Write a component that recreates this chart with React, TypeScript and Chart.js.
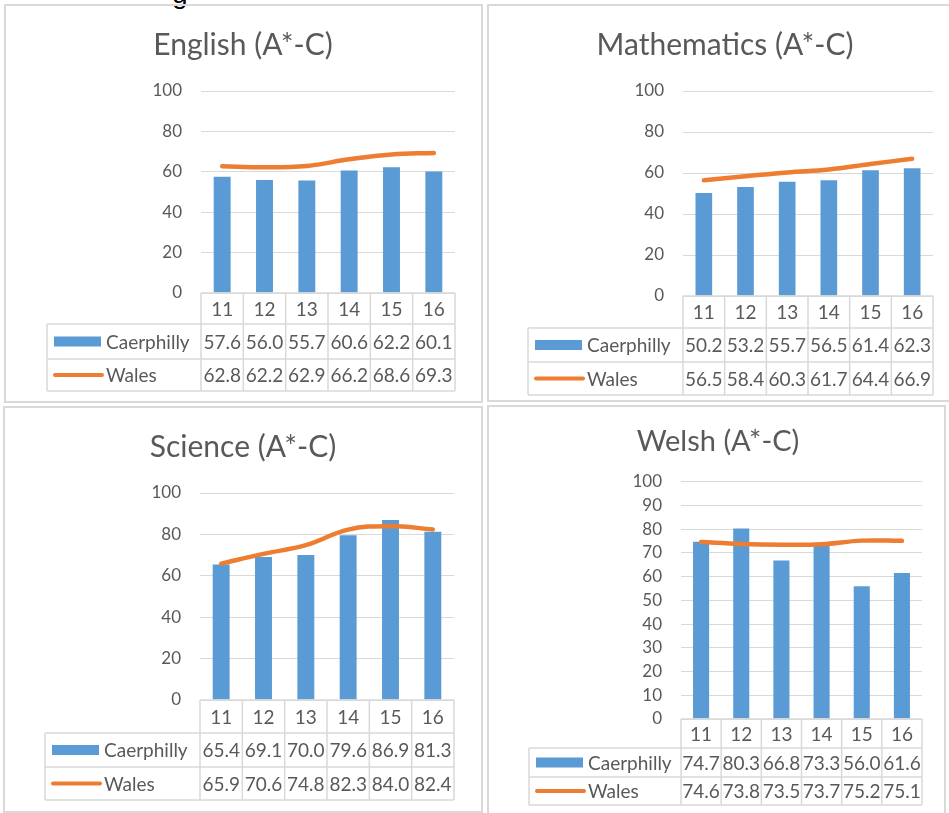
import React, { useEffect, useRef } from "react";
import { Chart, registerables } from "chart.js";

Chart.register(...registerables);

// ---------- data ----------
const years = ["11", "12", "13", "14", "15", "16"];
const seriesNames = ["Caerphilly", "Wales"];
const titles = ["English (A*-C)", "Mathematics (A*-C)", "Science (A*-C)", "Welsh (A*-C)"];

const englishCaerphilly = [57.6, 56.0, 55.7, 60.6, 62.2, 60.1];
const englishWales = [62.8, 62.2, 62.9, 66.2, 68.6, 69.3];
const mathsCaerphilly = [50.2, 53.2, 55.7, 56.5, 61.4, 62.3];
const mathsWales = [56.5, 58.4, 60.3, 61.7, 64.4, 66.9];
const scienceCaerphilly = [65.4, 69.1, 70.0, 79.6, 86.9, 81.3];
const scienceWales = [65.9, 70.6, 74.8, 82.3, 84.0, 82.4];
const welshCaerphilly = [74.7, 80.3, 66.8, 73.3, 56.0, 61.6];
const welshWales = [74.6, 73.8, 73.5, 73.7, 75.2, 75.1];

const yTickSteps = [20, 20, 20, 10];

// ---------- styles ----------
const FONT = "Lato, 'Open Sans', sans-serif";
const TEXT = "#595959";
const GRID = "#d9d9d9";
const BLUE = "#5B9BD5";
const ORANGE = "#ED7D31";

type PanelLayout = {
  left: number; top: number; width: number; height: number;
  padL: number; padR: number; padB: number; yW: number;
  titleSize: number; titleTop: number; titleBottom: number;
  legendLeft: number; rows: number[];
  border: { left: number; top: number; width: number; height: number };
};

const layouts: PanelLayout[] = [
  {
    left: 5, top: 4, width: 476, height: 398,
    padL: 26, padR: 26, padB: 109, yW: 170,
    titleSize: 30, titleTop: 23, titleBottom: 28,
    legendLeft: 42, rows: [31, 35, 32],
    border: { left: 4, top: 4, width: 479, height: 399 },
  },
  {
    left: 487, top: 4, width: 462, height: 397,
    padL: 30, padR: 16, padB: 105, yW: 166,
    titleSize: 30, titleTop: 23, titleBottom: 28,
    legendLeft: 41, rows: [32, 34, 33],
    border: { left: 487, top: 4, width: 470, height: 398 },
  },
  {
    left: 4, top: 407, width: 477, height: 406,
    padL: 28, padR: 27, padB: 113, yW: 168,
    titleSize: 30, titleTop: 22, titleBottom: 28,
    legendLeft: 41, rows: [33, 34, 33],
    border: { left: 3, top: 406, width: 480, height: 407 },
  },
  {
    left: 488, top: 407, width: 461, height: 406,
    padL: 26, padR: 27, padB: 94, yW: 167,
    titleSize: 29, titleTop: 17, titleBottom: 23,
    legendLeft: 41, rows: [29, 29, 28],
    border: { left: 487, top: 405, width: 459, height: 420 },
  },
];

const panelData = [
  [englishCaerphilly, englishWales],
  [mathsCaerphilly, mathsWales],
  [scienceCaerphilly, scienceWales],
  [welshCaerphilly, welshWales],
];

// ---------- data table plugin ----------
const dataTablePlugin = {
  id: "dataTable",
  afterDraw(chart: any, _args: any, opts: any) {
    const { ctx, chartArea } = chart;
    const xs = chart.scales.x;
    const labels: string[] = chart.data.labels;
    const n = labels.length;
    const left = chartArea.left;
    const right = chartArea.right;
    const colW = (right - left) / n;
    const top = chartArea.bottom;
    const rows: number[] = opts.rows;
    const y1 = top + rows[0];
    const y2 = y1 + rows[1];
    const y3 = y2 + rows[2];
    const ll = opts.legendLeft;

    ctx.save();
    ctx.strokeStyle = GRID;
    ctx.lineWidth = 1.5;
    const line = (ax: number, ay: number, bx: number, by: number) => {
      ctx.beginPath();
      ctx.moveTo(ax, ay);
      ctx.lineTo(bx, by);
      ctx.stroke();
    };
    line(left, top, right, top);
    line(ll, y1, right, y1);
    line(ll, y2, right, y2);
    line(ll, y3, right, y3);
    line(ll, y1, ll, y3);
    for (let i = 0; i <= n; i++) {
      const x = left + i * colW;
      line(x, top, x, y3);
    }

    ctx.fillStyle = TEXT;
    ctx.textAlign = "center";
    ctx.textBaseline = "middle";
    ctx.font = `19px ${FONT}`;
    labels.forEach((lab, i) => {
      ctx.fillText(lab, xs.getPixelForValue(i), top + rows[0] / 2 + 1);
    });

    const rowMid = [(y1 + y2) / 2, (y2 + y3) / 2];
    chart.data.datasets.forEach((ds: any, r: number) => {
      const ym = rowMid[r];
      ds.data.forEach((v: number, i: number) => {
        ctx.fillStyle = TEXT;
        ctx.textAlign = "center";
        ctx.fillText(v.toFixed(1), xs.getPixelForValue(i), ym + 1);
      });
      // legend key
      if (ds.type === "bar") {
        ctx.fillStyle = BLUE;
        ctx.fillRect(ll + 7, ym - 5, 47, 10);
      } else {
        ctx.strokeStyle = ORANGE;
        ctx.lineWidth = 4;
        ctx.lineCap = "round";
        line(ll + 8, ym, ll + 55, ym);
      }
      ctx.fillStyle = TEXT;
      ctx.textAlign = "left";
      ctx.fillText(ds.label, ll + 59, ym + 1);
    });
    ctx.restore();
  },
};

function Panel({ idx }: { idx: number }) {
  const ref = useRef<HTMLCanvasElement | null>(null);
  const L = layouts[idx];

  useEffect(() => {
    if (!ref.current) return;
    const [bars, line] = panelData[idx];
    const chart = new Chart(ref.current, {
      type: "bar",
      data: {
        labels: years,
        datasets: [
          {
            type: "bar",
            label: seriesNames[0],
            data: bars,
            backgroundColor: BLUE,
            barPercentage: 0.4,
            categoryPercentage: 1.0,
            order: 1,
          } as any,
          {
            type: "line",
            label: seriesNames[1],
            data: line,
            borderColor: ORANGE,
            backgroundColor: ORANGE,
            borderWidth: 4.5,
            borderCapStyle: "round",
            pointRadius: 0,
            tension: 0.4,
            fill: false,
            order: 0,
          } as any,
        ],
      },
      options: {
        responsive: false,
        maintainAspectRatio: false,
        animation: false,
        layout: { padding: { left: L.padL, right: L.padR, top: 0, bottom: L.padB } },
        plugins: {
          legend: { display: false },
          tooltip: { enabled: false },
          title: {
            display: true,
            text: titles[idx],
            color: TEXT,
            font: { family: FONT, size: L.titleSize, weight: "normal" as any },
            padding: { top: L.titleTop, bottom: L.titleBottom },
          },
          dataTable: { legendLeft: L.legendLeft, rows: L.rows },
        } as any,
        scales: {
          x: { type: "category", display: false, offset: true },
          y: {
            min: 0,
            max: 100,
            ticks: {
              stepSize: yTickSteps[idx],
              color: TEXT,
              padding: 19,
              font: { family: FONT, size: 17 },
            },
            grid: { color: GRID, lineWidth: 1, drawTicks: false },
            border: { display: false },
            afterFit: (s: any) => {
              s.width = L.yW;
            },
          } as any,
        },
      },
      plugins: [dataTablePlugin],
    });
    return () => chart.destroy();
  }, [idx]);

  return (
    <>
      <canvas
        ref={ref}
        width={L.width}
        height={L.height}
        style={{ position: "absolute", left: L.left, top: L.top, width: L.width, height: L.height }}
      />
      <div
        style={{
          position: "absolute",
          left: L.border.left,
          top: L.border.top,
          width: L.border.width,
          height: L.border.height,
          border: "2px solid #d9d9d9",
          boxSizing: "border-box",
          pointerEvents: "none",
        }}
      />
    </>
  );
}

export default function App() {
  return (
    <div
      style={{
        position: "absolute",
        left: 0,
        top: 0,
        width: 949,
        height: 813,
        overflow: "hidden",
        background: "#ffffff",
      }}
    >
      <div
        style={{
          position: "absolute",
          left: 172,
          top: -20,
          fontFamily: "'Liberation Sans', Arial, sans-serif",
          fontSize: 28,
          lineHeight: "28px",
          color: "#000",
        }}
      >
        g
      </div>
      {[0, 1, 2, 3].map((i) => (
        <Panel key={i} idx={i} />
      ))}
    </div>
  );
}
